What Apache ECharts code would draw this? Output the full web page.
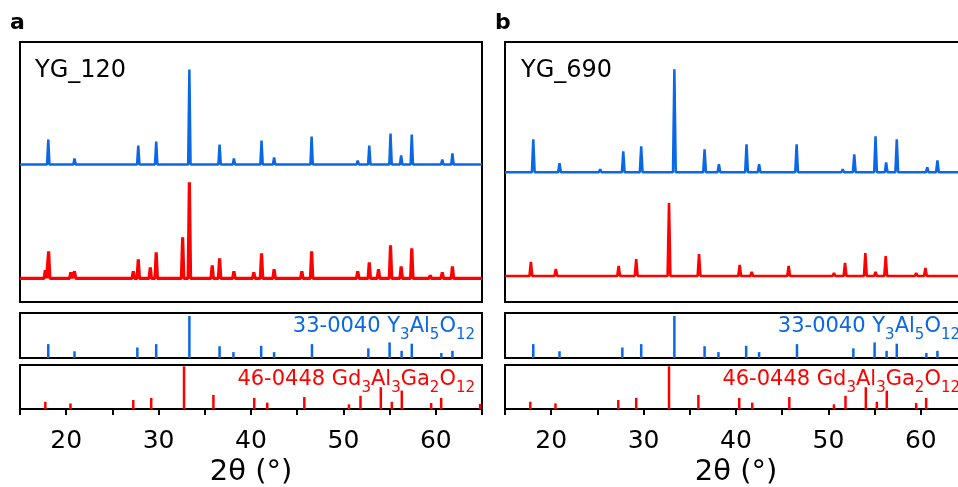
<!DOCTYPE html>
<html>
<head>
<meta charset="utf-8">
<script src="https://cdn.jsdelivr.net/npm/echarts@6/dist/echarts.min.js"></script>
<style>
  html, body { margin: 0; padding: 0; background: #fff; }
  #chart { width: 958px; height: 487px; }
</style>
</head>
<body>
<div id="chart"></div>
<script>
  // measured XRD peaks: 2theta and height above the trace baseline
  const peaksA_blue = [18.06, 20.9, 25.3, 27.8, 29.74, 33.33, 36.6, 38.15, 41.14, 42.5, 46.56, 51.55, 52.8, 55.1, 56.25, 57.4, 60.7, 61.8]
  const heightA_blue = [25, 6, 2, 19, 23, 95, 20, 6, 24, 7, 28, 4, 19, 31, 9, 30, 5, 11]
  const peaksA_red = [17.74, 18.1, 20.5, 20.9, 27.26, 27.8, 29.1, 29.74, 32.6, 33.33, 35.8, 36.6, 38.15, 40.3, 41.14, 42.5, 45.5, 46.56, 51.55, 52.8, 53.8, 55.1, 56.25, 57.4, 59.4, 60.7, 61.8]
  const heightA_red = [8, 27, 6, 7, 7, 19, 11, 26, 41, 96, 13, 20, 7, 6, 25, 9, 7, 27, 7, 16, 9, 33, 12, 30, 3, 6, 12]

  const peaksB_blue = [18.06, 20.9, 25.3, 27.8, 29.74, 33.33, 36.6, 38.15, 41.14, 42.5, 46.56, 51.55, 52.8, 55.1, 56.25, 57.4, 60.7, 61.8, 63.0]
  const heightB_blue = [33, 9, 3, 21, 26, 103, 23, 8, 28, 8, 28, 3, 18, 36, 10, 33, 5, 12, 2]
  const peaksB_red = [17.8, 20.5, 27.3, 29.2, 32.75, 36.0, 40.4, 41.7, 45.7, 50.6, 51.8, 54.0, 55.1, 56.2, 59.5, 60.5]
  const heightB_red = [14, 7, 10, 17, 73, 22, 11, 4, 10, 3, 13, 23, 4, 20, 3, 8]

  // baselines of the stacked traces
  const baseA = [137.5, 23.7]
  const baseB = [129.7, 26]

  // reference cards (relative intensity)
  const yagPos = [18.06, 20.9, 27.7, 29.74, 33.33, 36.6, 38.1, 41.1, 42.5, 46.6, 52.7, 55.0, 56.3, 57.4, 60.6, 61.8]
  const yagInt = [33, 16, 25, 33, 100, 28, 14, 29, 14, 33, 23, 37, 17, 34, 12, 17]
  const gaggPos = [17.74, 20.46, 27.26, 29.2, 32.75, 35.93, 40.35, 41.76, 45.77, 50.6, 51.85, 54.05, 55.24, 56.32, 59.5, 60.58, 64.8]
  const gaggInt = [17, 13, 21, 26, 100, 33, 26, 15, 28, 11, 31, 51, 17, 43, 14, 26, 12]

  const xTicks = [20, 30, 40, 50, 60]

  const BLUE = '#0a67e6'
  const RED = '#ff0000'
  const FONT = 'DejaVu Sans'

  function trace(pos, hgt, base, w) {
    const pts = [[15, base]]
    pos.forEach((p, i) => {
      pts.push([p - w, base], [p, base + hgt[i]], [p + w, base])
    })
    pts.push([65, base])
    return pts
  }
  function sticks(pos, val) {
    return pos.map((p, i) => [p, val[i]])
  }

  const grid = [], xAxis = [], yAxis = [], series = []

  function panel(left, blue, red, blueWidth, redWidth) {
    const g0 = grid.length
    const boxes = [[42, 260], [313, 45], [365, 44]]
    boxes.forEach(b => {
      grid.push({ left: left, top: b[0], width: 462, height: b[1], show: true,
        outerBoundsMode: 'none', containLabel: false,
        borderColor: '#000', borderWidth: 2, backgroundColor: 'transparent' })
    })
    for (let k = 0; k < 3; k++) {
      const last = k === 2
      xAxis.push({
        type: 'value', gridIndex: g0 + k, min: 15, max: 65, interval: 5,
        show: last,
        axisLine: { show: true, lineStyle: { color: '#000', width: 2 } },
        axisTick: { show: true, inside: false, length: 6, lineStyle: { color: '#000', width: 2 } },
        splitLine: { show: false },
        axisLabel: {
          margin: 20, fontSize: 25, color: '#000', fontFamily: FONT,
          formatter: v => xTicks.indexOf(v) >= 0 ? String(v) : ''
        },
        name: last ? '2θ (°)' : '',
        nameLocation: 'middle',
        nameGap: 49,
        nameTextStyle: { fontSize: 29, color: '#000', fontFamily: FONT }
      })
    }
    yAxis.push({ type: 'value', gridIndex: g0, min: 0, max: 260, show: false })
    yAxis.push({ type: 'value', gridIndex: g0 + 1, min: 0, max: 107, show: false })
    yAxis.push({ type: 'value', gridIndex: g0 + 2, min: 0, max: 103, show: false })

    series.push({ type: 'line', xAxisIndex: g0, yAxisIndex: g0, data: blue, showSymbol: false,
      lineStyle: { color: BLUE, width: blueWidth }, animation: false, silent: true })
    series.push({ type: 'line', xAxisIndex: g0, yAxisIndex: g0, data: red, showSymbol: false,
      lineStyle: { color: RED, width: redWidth }, animation: false, silent: true })
    series.push({ type: 'bar', xAxisIndex: g0 + 1, yAxisIndex: g0 + 1, data: sticks(yagPos, yagInt),
      barWidth: 2.5, itemStyle: { color: BLUE }, animation: false, silent: true })
    series.push({ type: 'bar', xAxisIndex: g0 + 2, yAxisIndex: g0 + 2, data: sticks(gaggPos, gaggInt),
      barWidth: 2.5, itemStyle: { color: RED }, animation: false, silent: true })
  }

  panel(20, trace(peaksA_blue, heightA_blue, baseA[0], 0.13), trace(peaksA_red, heightA_red, baseA[1], 0.13), 2.5, 3.2)
  panel(505, trace(peaksB_blue, heightB_blue, baseB[0], 0.15), trace(peaksB_red, heightB_red, baseB[1], 0.15), 2.5, 2.6)

  const richStyle = c => ({
    n: { fontSize: 21, lineHeight: 21, verticalAlign: 'top', fill: c, fontFamily: FONT },
    s: { fontSize: 15, lineHeight: 15, verticalAlign: 'top', padding: [12, 0, 0, 0], fill: c, fontFamily: FONT }
  })
  function cardText(x, y, txt, c) {
    return { type: 'text', x: x, y: y, silent: true,
      style: { text: txt, rich: richStyle(c), align: 'right', verticalAlign: 'top', fill: c } }
  }
  function plainText(x, y, txt, size, bold) {
    return { type: 'text', x: x, y: y, silent: true,
      style: { text: txt, fontSize: size, fontWeight: bold ? 'bold' : 'normal', fontFamily: FONT,
        fill: '#000', verticalAlign: 'middle' } }
  }
  const yagLabel = '{n|33-0040 Y}{s|3}{n|Al}{s|5}{n|O}{s|12}'
  const gaggLabel = '{n|46-0448 Gd}{s|3}{n|Al}{s|3}{n|Ga}{s|2}{n|O}{s|12}'

  const chart = echarts.init(document.getElementById('chart'))
  chart.setOption({
    animation: false,
    backgroundColor: '#fff',
    grid, xAxis, yAxis, series,
    graphic: [
      plainText(10, 23, 'a', 22, true),
      plainText(495, 23, 'b', 22, true),
      plainText(35, 71, 'YG_120', 24, false),
      plainText(521, 71, 'YG_690', 24, false),
      cardText(475, 316, yagLabel, BLUE),
      cardText(475, 369, gaggLabel, RED),
      cardText(960, 316, yagLabel, BLUE),
      cardText(960, 369, gaggLabel, RED)
    ]
  })
</script>
</body>
</html>
